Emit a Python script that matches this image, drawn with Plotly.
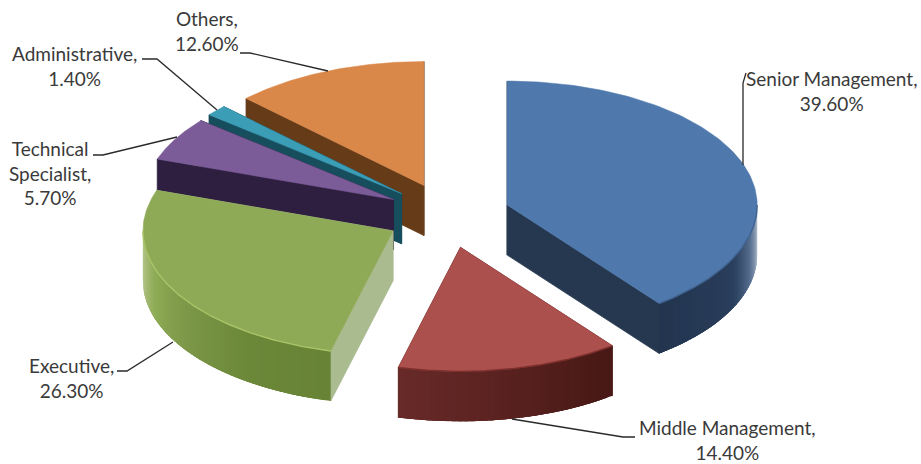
import numpy as np
import plotly.graph_objects as go

# Share of respondents by job level, clockwise from twelve o'clock
CATEGORIES = ["Senior Management", "Middle Management", "Executive",
              "Technical<br>Specialist", "Administrative", "Others"]
SHARES = [39.6, 14.4, 26.3, 5.7, 1.4, 12.6]

TOP_COLORS = ["#4F79AD", "#AC504E", "#8FAA56", "#7B5C98", "#3C9DB6", "#DA884A"]
CUT_COLORS = ["#25384F", "#5E2321", "#A9BB8F", "#2E1F40", "#174E5E", "#663B18"]
RIM_COLORS = ["#3F628E", "#7E302D", "#A9C468", "#5F4578", "#2C7A8E", "#B06C38"]

# Shading of the curved outer wall: (clockwise angle in degrees, colour)
WALL_SHADES = [
    [(92, "#B4C0CE"), (98, "#8496AE"), (104, "#566E90"), (115, "#2A3F5D"), (143, "#22344E")],
    [(143, "#471815"), (171, "#5A2220"), (195, "#682A28")],
    [(195, "#688336"), (215, "#6B8738"), (234, "#7B9647"), (252, "#8EAB55"), (262, "#A9BD7B"), (270, "#B6C78E")],
    None, None, None,
]

# Projection of the tilted pie
CX, CY = 448, 215.5
RX, RY = 250, 124
DEPTH = 50
PULL = 0.25
PULL_RY = 130

# Draw order, back to front
PAINT_ORDER = [5, 4, 3, 2, 1, 0]

# Data label centres and their leader lines
LABEL_POS = [(831, 91), (727, 440), (71, 378), (50, 173), (74, 66), (207, 31)]
LEADERS = [
    [(746, 73), (743, 83), (743, 165)],
    [(512, 419), (623, 437), (635, 437)],
    [(117, 371), (127, 371), (173, 342)],
    [(93, 155), (103, 155), (177, 137)],
    [(142, 59), (157, 59), (217, 110)],
    [(240, 53), (250, 53), (328, 71)],
]

fig = go.Figure()


def to_rgb(hex_color):
    return np.array([int(hex_color[i:i + 2], 16) for i in (1, 3, 5)], dtype=float)


def shade_at(stops, deg):
    angles = [s[0] for s in stops]
    rgb = [np.interp(deg, angles, [to_rgb(s[1])[k] for s in stops]) for k in range(3)]
    return "rgb({:.0f},{:.0f},{:.0f})".format(*rgb)


def add_poly(xs, ys, color, line_width=0.8):
    fig.add_trace(go.Scatter(
        x=list(xs), y=list(ys), mode="lines", fill="toself", fillcolor=color,
        line=dict(color=color, width=line_width), hoverinfo="skip", showlegend=False,
    ))


# Slice boundaries follow directly from the shares
edges = np.concatenate([[0], np.cumsum(SHARES)]) / sum(SHARES) * 360

for i in PAINT_ORDER:
    start, end = edges[i], edges[i + 1]
    mid = np.radians((start + end) / 2)
    ax = CX + PULL * RX * np.sin(mid)
    ay = CY - PULL * PULL_RY * np.cos(mid)

    def rim(deg):
        rad = np.radians(deg)
        return ax + RX * np.sin(rad), ay - RY * np.cos(rad)

    # Flat cut faces, hidden ones end up under the top face
    for edge in (start, end):
        ex, ey = rim(edge)
        add_poly([ax, ex, ex, ax, ax], [ay, ey, ey + DEPTH, ay + DEPTH, ay], CUT_COLORS[i])

    # Curved outer wall: each strip runs on under the next so no seams show
    lo, hi = max(start, 90), min(end, 270)
    if hi > lo and WALL_SHADES[i]:
        steps = np.linspace(lo, hi, int((hi - lo) / 1.5) + 2)
        for a, b in zip(steps[:-1], steps[1:]):
            tail = np.linspace(a, min(hi, b + 4), 6)
            tx, ty = rim(tail)
            add_poly(np.r_[tx, tx[::-1], tx[0]], np.r_[ty, ty[::-1] + DEPTH, ty[0]],
                     shade_at(WALL_SHADES[i], (a + b) / 2), 0)

    # Top face
    arc = np.linspace(start, end, 120)
    rx_pts, ry_pts = rim(arc)
    add_poly(np.r_[ax, rx_pts, ax], np.r_[ay, ry_pts, ay], TOP_COLORS[i], 0.5)

    # Bevel along the front of the rim
    if hi > lo and WALL_SHADES[i]:
        bevel = np.linspace(lo, hi, 120)
        bx, by = rim(bevel)
        fig.add_trace(go.Scatter(x=bx, y=by, mode="lines",
                                 line=dict(color=RIM_COLORS[i], width=1.4),
                                 hoverinfo="skip", showlegend=False))

for name, share, pos, leader in zip(CATEGORIES, SHARES, LABEL_POS, LEADERS):
    fig.add_trace(go.Scatter(
        x=[p[0] for p in leader], y=[p[1] for p in leader], mode="lines",
        line=dict(color="#2A2A2A", width=1.3), hoverinfo="skip", showlegend=False,
    ))
    fig.add_annotation(
        x=pos[0], y=pos[1], text=f"{name},<br>{share:.2f}%", showarrow=False,
        xanchor="center", yanchor="middle", align="center",
        font=dict(family="Lato, 'Open Sans', sans-serif", size=19, color="#3A3A3A"),
    )

fig.update_layout(
    width=921, height=464, margin=dict(l=0, r=0, t=0, b=0),
    paper_bgcolor="white", plot_bgcolor="white", showlegend=False,
    xaxis=dict(range=[0, 921], visible=False, fixedrange=True),
    yaxis=dict(range=[464, 0], visible=False, fixedrange=True),
)

fig.write_html("out.html", config={"displayModeBar": False})
